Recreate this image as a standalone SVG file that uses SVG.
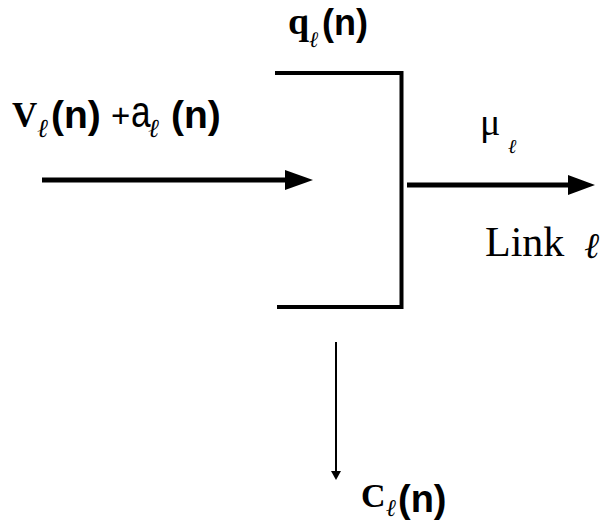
<svg xmlns="http://www.w3.org/2000/svg" width="609" height="523" viewBox="0 0 609 523">
<style>
.ln{stroke:#000;fill:none}
.ah{fill:#000}
.ser{font-family:"Liberation Serif","DejaVu Serif",serif;fill:#000}
.sans{font-family:"Liberation Sans","DejaVu Sans",sans-serif;fill:#000}
.ell{font-family:"DejaVu Serif","Liberation Serif",serif;font-style:italic;fill:#000}
</style>
<rect width="609" height="523" fill="#fff"/>
<g id="queue">
<path class="ln" stroke-width="4" d="M275,73 H401.5 V307 H277"/>
</g>
<g id="connectors">
<line class="ln" stroke-width="5" x1="42" y1="180" x2="287" y2="180"/>
<polygon class="ah" points="285,170 313,180 285,190"/>
<line class="ln" stroke-width="5" x1="407" y1="185" x2="570" y2="185"/>
<polygon class="ah" points="568,175 595,185 568,195"/>
<line class="ln" stroke-width="2" x1="336" y1="342" x2="336" y2="474"/>
<polygon class="ah" points="331,471 341,471 336,480"/>
</g>
<g id="label-input">
<text class="ser" x="12" y="127" font-size="35" font-weight="bold">V</text>
<text class="ell" x="37" y="137" font-size="26">ℓ</text>
<text class="sans" x="51" y="128" font-size="39" font-weight="bold">(n)</text>
<text class="sans" x="111" y="127" font-size="33">+</text>
<text class="sans" transform="translate(131,127) scale(0.8,1)" font-size="44">a</text>
<text class="ell" x="148" y="137" font-size="26">ℓ</text>
<text class="sans" x="171" y="128" font-size="39" font-weight="bold">(n)</text>
</g>
<g id="label-q">
<text class="ser" x="288" y="34" font-size="38" font-weight="bold">q</text>
<text class="ell" x="309" y="47" font-size="22">ℓ</text>
<text class="sans" x="322" y="35" font-size="36" font-weight="bold">(n)</text>
</g>
<g id="label-mu">
<text class="ser" x="480" y="135" font-size="38">μ</text>
<text class="ell" x="508" y="153" font-size="20">ℓ</text>
</g>
<g id="label-link">
<text class="ser" x="485" y="256" font-size="42">Link</text>
<text class="ell" x="584" y="258" font-size="36">ℓ</text>
</g>
<g id="label-c">
<text class="ser" x="361" y="507" font-size="34" font-weight="bold">C</text>
<text class="ell" x="386" y="516" font-size="24">ℓ</text>
<text class="sans" x="398" y="512" font-size="38" font-weight="bold">(n)</text>
</g>
</svg>
